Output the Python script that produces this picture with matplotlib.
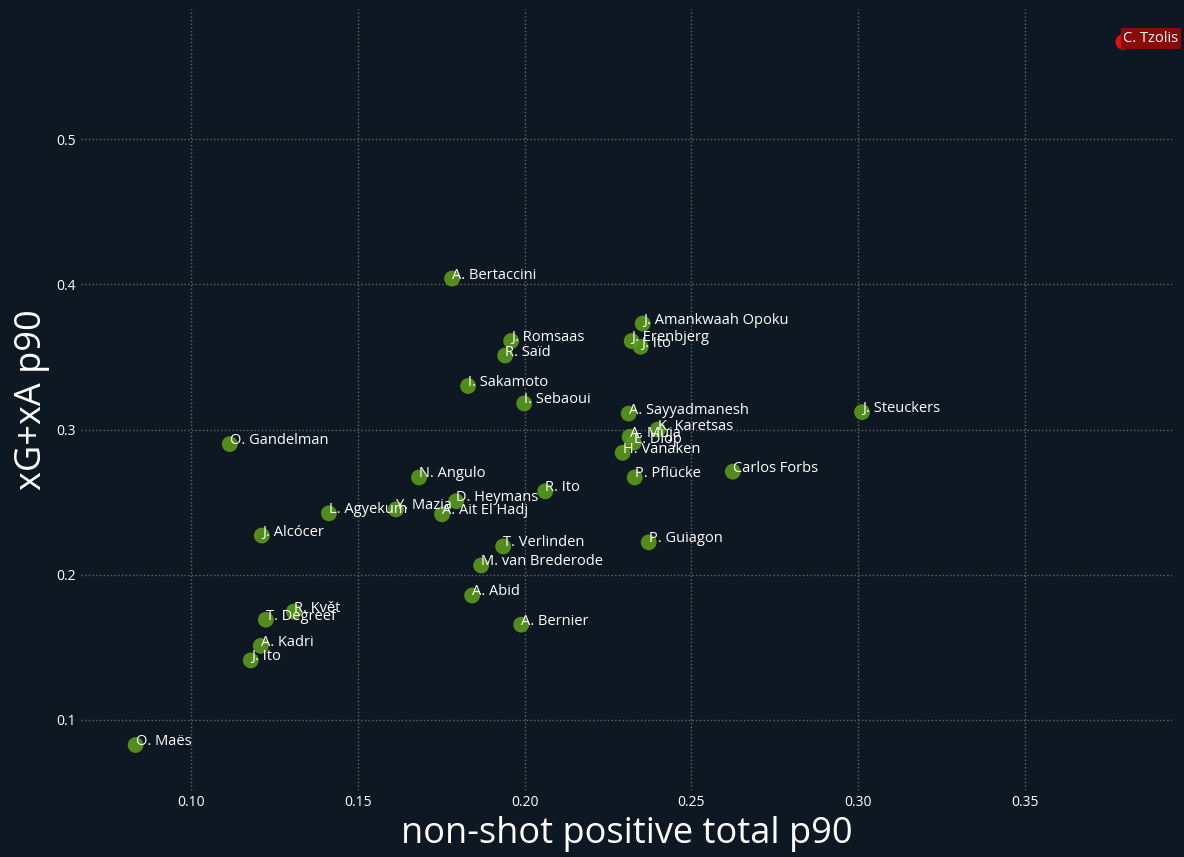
import matplotlib
matplotlib.use("Agg")
import matplotlib.pyplot as plt

plt.rcParams['font.family'] = ['Open Sans', 'DejaVu Sans']

names = ["A. Bertaccini", "J. Amankwaah Opoku", "J. Erenbjerg", "J. Ito", "J. Romsaas",
         "R. Saïd", "I. Sakamoto", "I. Sebaoui", "A. Sayyadmanesh", "K. Karetsas",
         "A. Muja", "E. Diop", "H. Vanaken", "P. Pflücke", "Carlos Forbs", "J. Steuckers",
         "O. Gandelman", "N. Angulo", "R. Ito", "D. Heymans", "A. Ait El Hadj", "Y. Mazia",
         "L. Agyekum", "J. Alcócer", "T. Verlinden", "P. Guiagon", "M. van Brederode",
         "A. Abid", "A. Bernier", "R. Květ", "T. Degreef", "A. Kadri", "J. Ito", "O. Maës"]
nonshot = [0.1783, 0.2354, 0.2321, 0.2348, 0.1960, 0.1942, 0.1831, 0.1999, 0.2312, 0.2399,
           0.2315, 0.2327, 0.2294, 0.2330, 0.2624, 0.3011, 0.1117, 0.1684, 0.2062, 0.1795,
           0.1753, 0.1615, 0.1414, 0.1213, 0.1936, 0.2372, 0.1870, 0.1843, 0.1990, 0.1309,
           0.1225, 0.1210, 0.1180, 0.0835]
xgxa = [0.404, 0.373, 0.361, 0.357, 0.361, 0.351, 0.330, 0.318, 0.311, 0.300,
        0.295, 0.291, 0.284, 0.267, 0.271, 0.312, 0.290, 0.267, 0.2575, 0.2506,
        0.2416, 0.245, 0.2423, 0.227, 0.2195, 0.2223, 0.2064, 0.1857, 0.1656, 0.1746,
        0.169, 0.151, 0.141, 0.0827]
hl_name = "C. Tzolis"
hl_x = 0.3794
hl_y = 0.567

bg = "#0e1822"
fig, ax = plt.subplots(figsize=(11.84, 8.57), dpi=100)
fig.patch.set_facecolor(bg)
ax.set_facecolor(bg)
fig.subplots_adjust(left=0.068, right=0.99, top=0.99, bottom=0.078)

ax.scatter(nonshot, xgxa, s=130, color="#5a9a1c", alpha=0.9, zorder=3, edgecolors="none")
for n, x, y in zip(names, nonshot, xgxa):
    ax.text(x, y, n, color="white", fontsize=10.5, zorder=4)

ax.scatter([hl_x], [hl_y], s=130, color="#e01010", zorder=3, edgecolors="none")
ax.text(hl_x, hl_y, hl_name, color="white", fontsize=10.5, zorder=4,
        bbox=dict(facecolor="#8b0a0a", edgecolor="none", pad=2))

ax.set_xlim(0.067, 0.394)
ax.set_ylim(0.0516, 0.590)
ax.grid(True, color="#666666", linestyle=":", linewidth=1)
ax.set_axisbelow(True)
for s in ax.spines.values():
    s.set_visible(False)
ax.tick_params(colors="white", labelsize=10, length=0)
ax.set_xlabel("non-shot positive total p90", color="white", fontsize=26)
ax.set_ylabel("xG+xA p90", color="white", fontsize=26)

fig.savefig("out.png", facecolor=bg)
